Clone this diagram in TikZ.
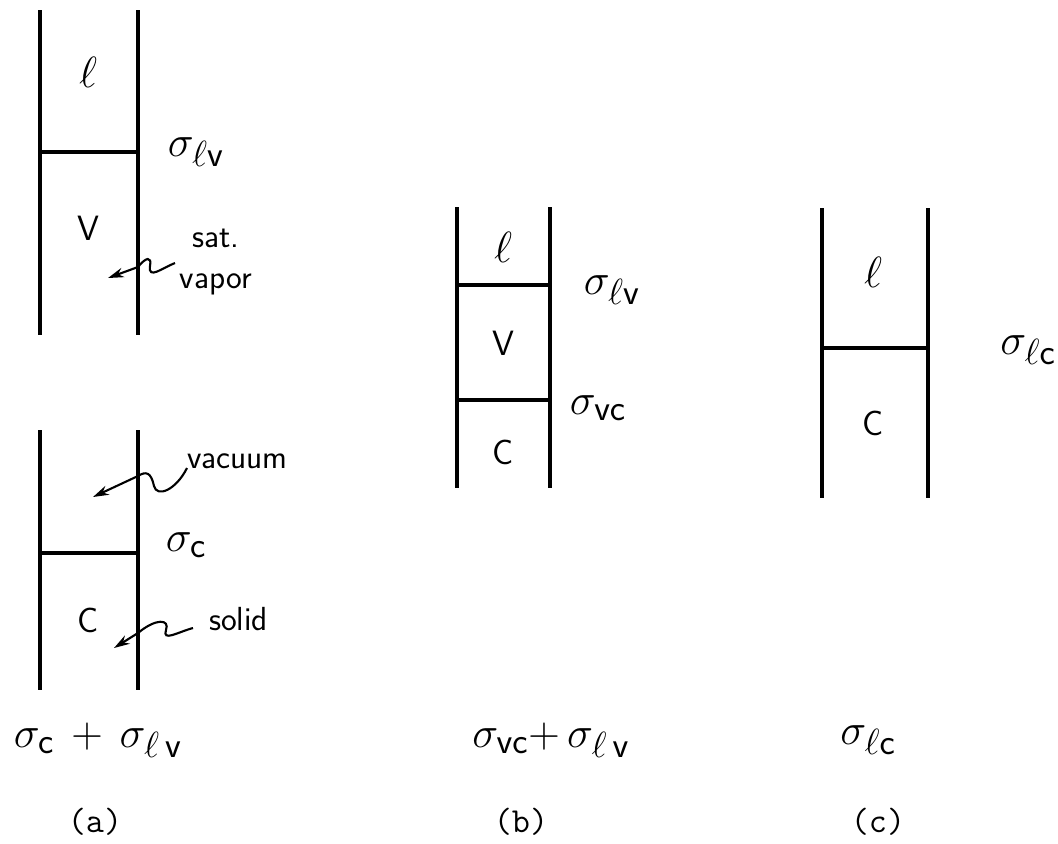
\documentclass[tikz,border=0pt]{standalone}
\usepackage{amsmath}
\usepackage{tikz}
\usetikzlibrary{arrows.meta}

\begin{document}
\begin{tikzpicture}[x=0.02cm, y=-0.02cm,
    wall/.style={line width=1.9pt},
    leader/.style={line width=1.2pt, -{Stealth[length=9pt, width=5.5pt]}},
    phase/.style={font=\fontsize{20}{24}\selectfont\sffamily},
    tens/.style={font=\fontsize{29}{32}\selectfont, inner sep=1pt},
    note/.style={font=\fontsize{19}{23}\selectfont\sffamily, align=center, inner sep=1pt},
    caption/.style={font=\fontsize{20}{24}\selectfont\ttfamily}]
    \useasboundingbox (0,0) rectangle (1058,843);
    % (a) liquid over vapour
    \draw[wall] (40,10)--(40,335) (138,10)--(138,335) (40,152)--(138,152);
    \node[tens] (a_lv) at (196,152) {$\sigma_{\ell\mathsf{v}}$};
    \node[phase] (a_l) at (88,72) {\fontsize{28}{30}\selectfont$\ell$};
    \node[phase] (a_v) at (88,228) {V};
    \node[note] (satvap) at (216,262) {sat.\\vapor};
    \coordinate (startv) at (175,263); \coordinate (tipv) at (108,278);
    \draw[leader] (startv) .. controls (162,268) and (148,280) .. (150,266)
        .. controls (152,256) and (146,257) .. (138,267) -- (tipv);
    % (a) vacuum over solid
    \draw[wall] (40,430)--(40,690) (138,430)--(138,690) (40,553)--(138,553);
    \node[tens] (a_c) at (186,545) {$\sigma_{\mathsf{c}}$};
    \node[phase] (a_cc) at (88,620) {C};
    \node[note, anchor=west] (vac) at (185,461) {vacuum};
    \coordinate (startvac) at (187,468); \coordinate (tipvac) at (93,497);
    \draw[leader] (startvac) .. controls (176,490) and (157,498) .. (154,486)
        .. controls (151,472) and (146,471) .. (138,476) -- (tipvac);
    \node[note, anchor=west] (sol) at (207,619) {solid};
    \coordinate (startsol) at (193,628); \coordinate (tipsol) at (114,648);
    \draw[leader] (startsol) .. controls (178,632) and (162,642) .. (166,630)
        .. controls (170,619) and (156,618) .. (138,633) -- (tipsol);
    \node[tens] (a_sum) at (98,740) {$\sigma_{\mathsf{c}}\,+\,\sigma_{\ell\,\mathsf{v}}$};
    \node[caption] (a_cap) at (95,822) {(a)};
    % (b) liquid, vapour, solid
    \draw[wall] (457,207)--(457,488) (550,207)--(550,488) (457,285)--(550,285) (457,400)--(550,400);
    \node[phase] (b_l) at (503,247) {\fontsize{28}{30}\selectfont$\ell$};
    \node[tens] (b_lv) at (612,290) {$\sigma_{\ell\mathsf{v}}$};
    \node[phase] (b_v) at (503,343) {V};
    \node[tens] (b_vc) at (598,408) {$\sigma_{\mathsf{vc}}$};
    \node[phase] (b_c) at (503,452) {C};
    \node[tens] (b_sum) at (551,740) {$\sigma_{\mathsf{vc}}{+}\,\sigma_{\ell\,\mathsf{v}}$};
    \node[caption] (b_cap) at (521,822) {(b)};
    % (c) liquid on solid
    \draw[wall] (822,208)--(822,498) (928,208)--(928,498) (822,348)--(928,348);
    \node[phase] (c_l) at (873,272) {\fontsize{28}{30}\selectfont$\ell$};
    \node[tens] (c_lc) at (1028,350) {$\sigma_{\ell\mathsf{c}}$};
    \node[phase] (c_c) at (873,423) {C};
    \node[tens] (c_sum) at (868,740) {$\sigma_{\ell\mathsf{c}}$};
    \node[caption] (c_cap) at (878,822) {(c)};
\end{tikzpicture}
\end{document}
